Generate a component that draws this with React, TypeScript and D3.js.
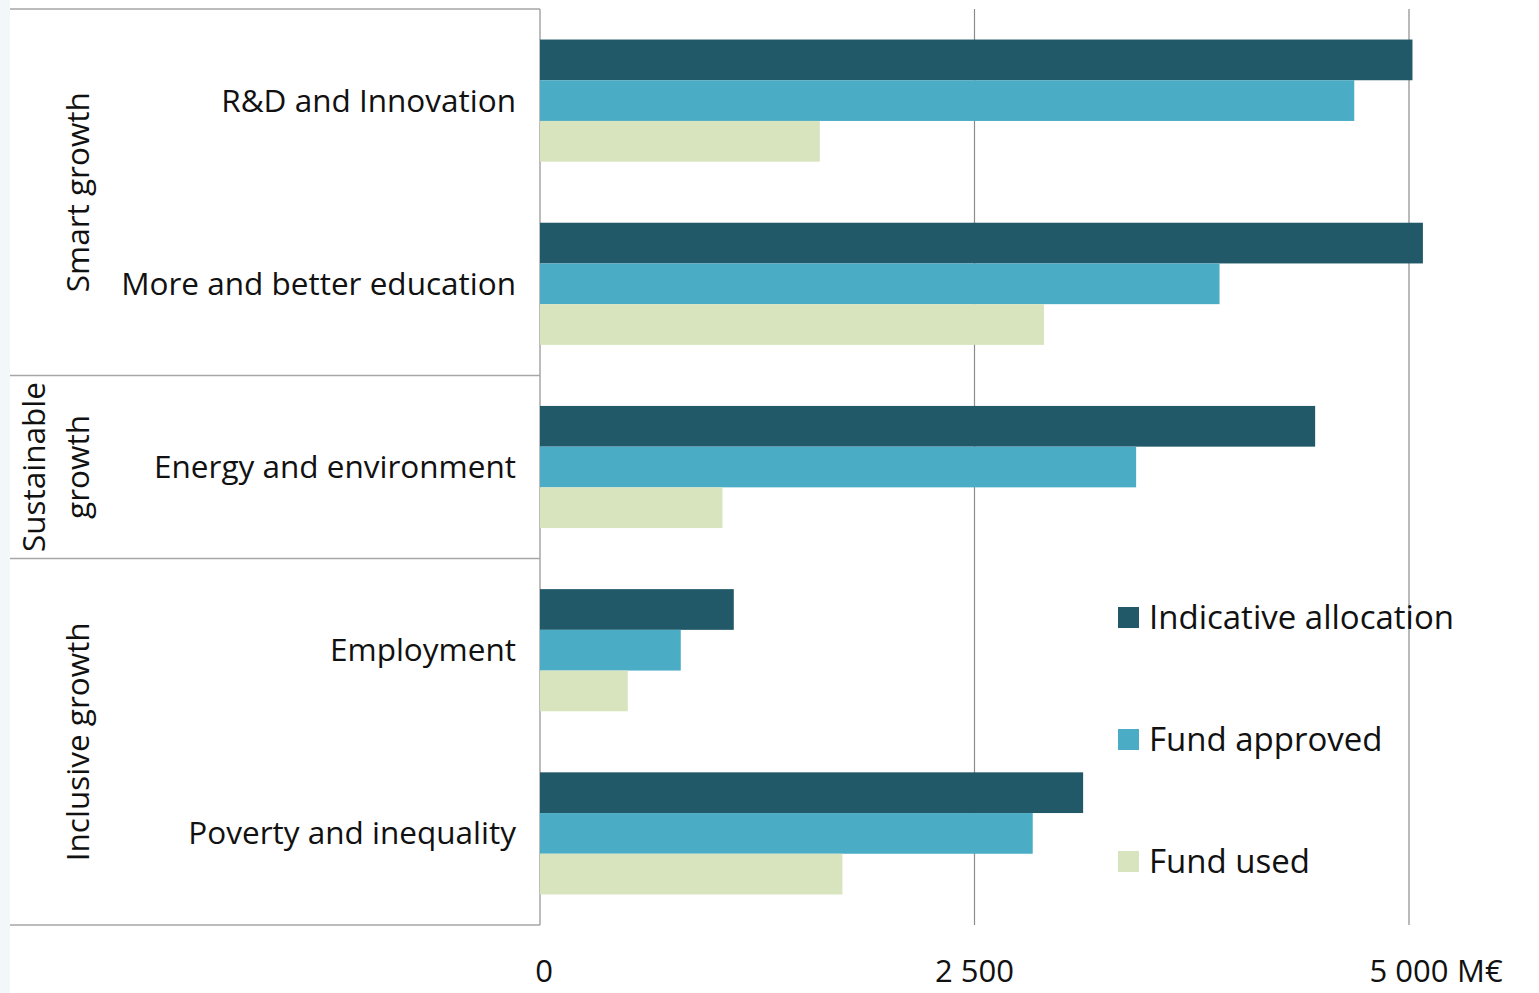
import React, { useEffect } from 'react';
import * as d3 from 'd3';

const categories = [
  'R&D and Innovation',
  'More and better education',
  'Energy and environment',
  'Employment',
  'Poverty and inequality',
];
const seriesNames = ['Indicative allocation', 'Fund approved', 'Fund used'];
const indicativeAllocation = [5020, 5080, 4460, 1115, 3125];
const fundApproved = [4685, 3910, 3430, 810, 2835];
const fundUsed = [1610, 2900, 1050, 505, 1740];
const groups = [
  { lines: ['Smart growth'], members: ['R&D and Innovation', 'More and better education'] },
  { lines: ['Sustainable', 'growth'], members: ['Energy and environment'] },
  { lines: ['Inclusive growth'], members: ['Employment', 'Poverty and inequality'] },
];
const ticks = [0, 2500, 5000];
const colors = ['#215968', '#4bacc6', '#d7e4bd'];

const W = 1539;
const H = 993;
const FONT = '"Open Sans", "DejaVu Sans", sans-serif';

export default function App() {
  useEffect(() => {
    document.body.style.margin = '0';
    document.body.style.overflow = 'hidden';
  }, []);

  const top = 9;
  const bottom = 925;
  const x = d3.scaleLinear().domain([0, 5000]).range([540, 1409]);
  const y = d3.scaleBand().domain(categories).range([top, bottom]).paddingInner(1 / 3).paddingOuter(1 / 6);
  const ySub = d3.scaleBand().domain(seriesNames).range([0, y.bandwidth()]);
  const gap = y.step() - y.bandwidth();
  const values = [indicativeAllocation, fundApproved, fundUsed];
  const fmt = (v: number) => d3.format(',')(v).replace(/,/g, ' ');

  // group boundaries
  const bounds = groups.map(g => {
    const first = g.members[0];
    const last = g.members[g.members.length - 1];
    return {
      ...g,
      y0: Math.max(top, (y(first) as number) - gap / 2),
      y1: Math.min(bottom, (y(last) as number) + y.bandwidth() + gap / 2),
    };
  });

  return (
    <svg width={W} height={H} style={{ display: 'block', background: '#fff' }} fontFamily={FONT}>
      <rect x={0} y={0} width={10} height={H} fill="#f2f8fa" />
      {/* gridlines */}
      {ticks.slice(1).map(t => (
        <line key={t} x1={x(t)} x2={x(t)} y1={top} y2={bottom} stroke="#8c8c8c" strokeWidth={1.2} />
      ))}
      {/* left panel */}
      <line x1={10} x2={540} y1={top} y2={top} stroke="#a6a6a6" strokeWidth={1.5} />
      {bounds.map(b => (
        <line key={b.lines[0]} x1={10} x2={540} y1={b.y1} y2={b.y1} stroke="#a6a6a6" strokeWidth={1.5} />
      ))}
      <line x1={540} x2={540} y1={top} y2={bottom} stroke="#a6a6a6" strokeWidth={1.5} />
      {bounds.map(b => {
        const cy = (b.y0 + b.y1) / 2;
        const n = b.lines.length;
        return (
          <text key={b.lines[0]} transform={`translate(89,${cy}) rotate(-90)`} textAnchor="middle" fontSize={31.5} fill="#111">
            {b.lines.map((l, i) => (
              <tspan key={l} x={0} y={(i - (n - 1)) * 44}>{l}</tspan>
            ))}
          </text>
        );
      })}
      {categories.map(c => (
        <text key={c} x={516} y={(y(c) as number) + y.bandwidth() / 2} dy="0.35em" textAnchor="end" fontSize={31.5} fill="#111">
          {c}
        </text>
      ))}
      {/* bars */}
      {categories.map((c, i) => (
        <g key={c}>
          {seriesNames.map((s, j) => (
            <rect
              key={s}
              x={x(0)}
              y={(y(c) as number) + (ySub(s) as number)}
              width={x(values[j][i]) - x(0)}
              height={ySub.bandwidth()}
              fill={colors[j]}
            />
          ))}
        </g>
      ))}
      {/* tick labels */}
      {ticks.map(t => (
        <text key={t} x={x(t) + (t === 0 ? 4 : 0)} y={982} textAnchor="middle" fontSize={31} fill="#111">
          {fmt(t)}
        </text>
      ))}
      <text x={x(5000) + 48} y={982} fontSize={31} fill="#111">M€</text>
      {/* legend */}
      {seriesNames.map((s, j) => (
        <g key={s} transform={`translate(1118,${617 + j * 122})`}>
          <rect x={0} y={-10} width={21} height={21} fill={colors[j]} />
          <text x={31} y={0} dy="0.35em" fontSize={33} fill="#111">{s}</text>
        </g>
      ))}
    </svg>
  );
}
